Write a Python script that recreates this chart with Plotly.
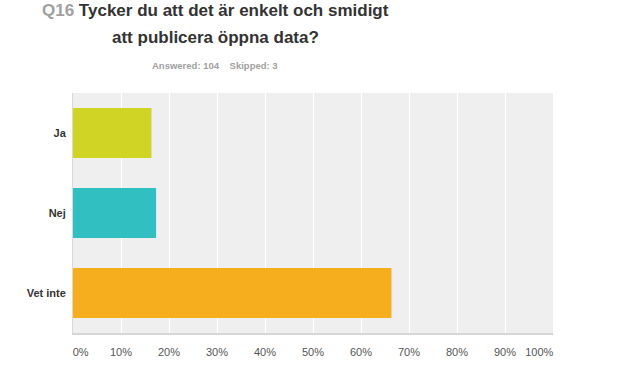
import plotly.graph_objects as go

categories = ["Ja", "Nej", "Vet inte"]
values = [16.35, 17.31, 66.35]
colors = ["#d0d525", "#31bfc1", "#f7ae1e"]
tick_vals = [0, 10, 20, 30, 40, 50, 60, 70, 80, 90, 100]
tick_text = ["\u00a0\u00a0\u00a0\u00a0\u00a00%", "10%", "20%", "30%", "40%", "50%",
             "60%", "70%", "80%", "90%", "100%" + "\u00a0" * 9]
title_line1 = "<span style='color:#a0a0a0'>Q16</span> Tycker du att det är enkelt och smidigt"
title_line2 = "att publicera öppna data?"
subtitle = "Answered: 104&nbsp;&nbsp;&nbsp;&nbsp;Skipped: 3"

fig = go.Figure(go.Bar(
    x=values, y=categories, orientation="h",
    marker=dict(color=colors, line=dict(width=0)),
    hoverinfo="x+y",
))

L, T, PLOT_W, PLOT_H = 73, 93, 480, 240
CX = (215 - L) / PLOT_W


def py(pix):
    return 1 + (T - pix) / PLOT_H


fig.update_layout(
    width=622, height=373,
    margin=dict(l=L, r=622 - L - PLOT_W, t=T, b=373 - T - PLOT_H),
    paper_bgcolor="white",
    plot_bgcolor="#efefef",
    font=dict(family="Liberation Sans, Arial, sans-serif", size=11, color="#333"),
    bargap=0.375,
    showlegend=False,
    annotations=[
        dict(text=title_line1, xref="paper", yref="paper", x=CX, y=py(11),
             xanchor="center", yanchor="middle", showarrow=False,
             font=dict(size=17, color="#333", weight="bold")),
        dict(text=title_line2, xref="paper", yref="paper", x=CX, y=py(37.5),
             xanchor="center", yanchor="middle", showarrow=False,
             font=dict(size=17, color="#333", weight="bold")),
        dict(text=subtitle, xref="paper", yref="paper", x=CX, y=py(66),
             xanchor="center", yanchor="middle", showarrow=False,
             font=dict(size=9.5, color="#a0a0a0", weight="bold")),
    ],
)

fig.update_xaxes(
    range=[0, 100], tickvals=tick_vals, ticktext=tick_text,
    showgrid=True, gridcolor="white", gridwidth=1,
    zeroline=False, showline=True, linecolor="#d6d6d6", linewidth=2,
    mirror=False, ticks="", ticklen=0, ticklabelstandoff=8,
    tickfont=dict(size=11, color="#555"),
    fixedrange=True,
)
fig.update_yaxes(
    autorange="reversed", showgrid=False, zeroline=False,
    showline=True, linecolor="#d9d9d9", linewidth=1,
    ticks="", ticklabelstandoff=4,
    tickfont=dict(size=11, color="#333", weight="bold"),
    fixedrange=True,
)

fig.write_html("out.html", config={"displayModeBar": False},
               post_script="document.body.style.margin='0';")
